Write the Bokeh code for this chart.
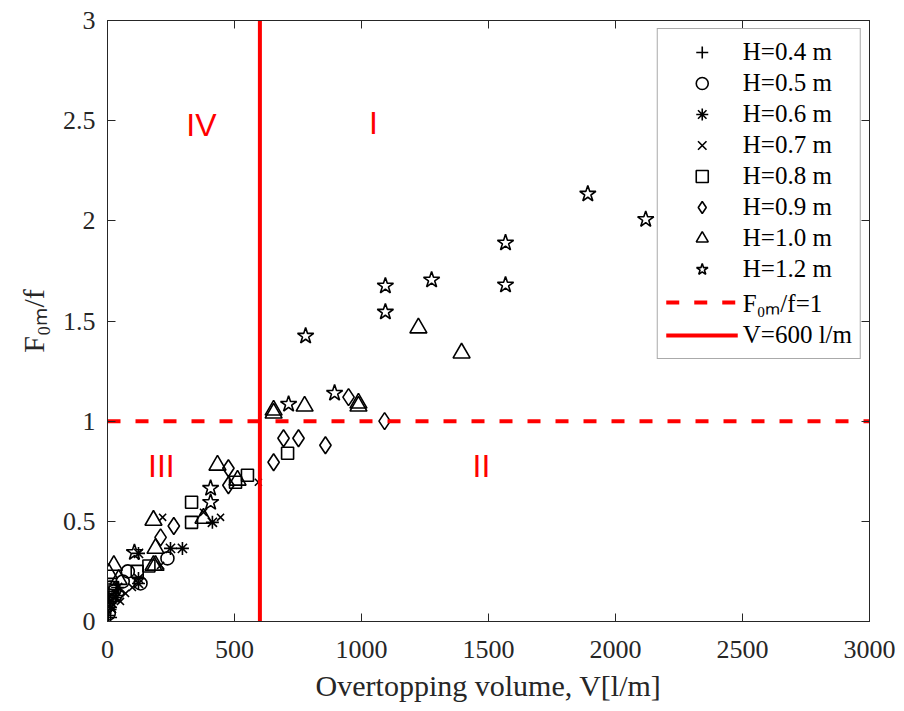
from bokeh.plotting import figure
from bokeh.models import LinearAxis, FixedTicker, Range1d, ColumnDataSource
from bokeh.core.properties import value
from bokeh.embed import file_html
from bokeh.resources import INLINE

# ---------------- data ----------------
x_ticks = [0, 500, 1000, 1500, 2000, 2500, 3000]
y_ticks = [0, 0.5, 1, 1.5, 2, 2.5, 3]

h04_x = [3, 10, 18, 35, 6, 12]
h04_y = [0.03, 0.06, 0.10, 0.13, 0.16, 0.02]

h05_x = [5, 2, 5, 12, 25, 80, 130, 236, 60]
h05_y = [0.04, 0.08, 0.13, 0.17, 0.15, 0.25, 0.19, 0.315, 0.20]

h06_x = [2, 12, 31, 8, 122, 122, 122, 248, 295, 413, 40]
h06_y = [0.12, 0.07, 0.12, 0.10, 0.215, 0.19, 0.34, 0.365, 0.365, 0.495, 0.17]

h07_x = [51, 71, 98, 209, 217, 378, 445, 594, 20]
h07_y = [0.10, 0.14, 0.17, 0.28, 0.52, 0.545, 0.52, 0.695, 0.06]

h08_x = [20, 117, 163, 331, 331, 504, 551, 709, 10]
h08_y = [0.17, 0.25, 0.277, 0.495, 0.595, 0.695, 0.73, 0.84, 0.12]

h09_x = [43, 209, 261, 476, 476, 654, 693, 752, 858, 949, 1091]
h09_y = [0.14, 0.42, 0.477, 0.68, 0.765, 0.795, 0.915, 0.915, 0.88, 1.12, 1.0]

h10_x = [5, 25, 44, 181, 189, 189, 181, 378, 433, 512, 654, 654, 776, 988, 988, 1224, 1394]
h10_y = [0.24, 0.28, 0.21, 0.28, 0.28, 0.365, 0.505, 0.515, 0.78, 0.705, 1.055, 1.04,
         1.075, 1.09, 1.075, 1.465, 1.34]

h12_x = [106, 406, 406, 713, 780, 894, 1094, 1094, 1276, 1567, 1567, 1891, 2119]
h12_y = [0.345, 0.595, 0.665, 1.085, 1.425, 1.14, 1.545, 1.675, 1.705, 1.68, 1.89, 2.134, 2.007]

series_labels = ["H=0.4 m", "H=0.5 m", "H=0.6 m", "H=0.7 m",
                 "H=0.8 m", "H=0.9 m", "H=1.0 m", "H=1.2 m"]

ratio_line_x = [0, 3000]
ratio_line_y = [1, 1]
volume_line_x = [600, 600]
volume_line_y = [0, 3]
ratio_label = "F\u2080\u2098/f=1"
volume_label = "V=600 l/m"

region_names = ["IV", "I", "III", "II"]
region_x = [370, 1047, 212, 1472]
region_y = [2.48, 2.49, 0.776, 0.776]

# ---------------- figure ----------------
AX = "#262626"
SERIF = "Liberation Serif"

p = figure(frame_width=762, frame_height=601,
           x_range=Range1d(0, 3000), y_range=Range1d(0, 3),
           output_backend="svg", toolbar_location=None,
           min_border_left=107, min_border_right=33,
           min_border_top=20, min_border_bottom=88,
           background_fill_color="white", border_fill_color="white")
p.outline_line_color = AX
p.grid.visible = False

for ax in (p.xaxis[0], p.yaxis[0]):
    ax.major_tick_in = 8
    ax.major_tick_out = 0
    ax.minor_tick_line_color = None
    ax.axis_line_color = AX
    ax.major_tick_line_color = AX
    ax.major_label_text_font = SERIF
    ax.major_label_text_font_size = "26px"
    ax.major_label_text_color = AX
    ax.axis_label_text_font = SERIF
    ax.axis_label_text_font_size = "30px"
    ax.axis_label_text_font_style = "normal"
    ax.axis_label_text_color = AX

p.xaxis[0].ticker = FixedTicker(ticks=x_ticks)
p.yaxis[0].ticker = FixedTicker(ticks=y_ticks)
p.xaxis[0].axis_label = "Overtopping volume, V[l/m]"
p.yaxis[0].axis_label = "F\u2080\u2098/f"
p.xaxis[0].major_label_standoff = 19
p.yaxis[0].major_label_standoff = 12
p.xaxis[0].axis_label_standoff = 8
p.yaxis[0].axis_label_standoff = 10

top = LinearAxis(ticker=FixedTicker(ticks=x_ticks),
                 major_label_overrides={t: "" for t in x_ticks})
right = LinearAxis(ticker=FixedTicker(ticks=y_ticks),
                   major_label_overrides={t: "" for t in y_ticks})
for ax in (top, right):
    ax.major_tick_in = 8
    ax.major_tick_out = 0
    ax.minor_tick_line_color = None
    ax.axis_line_color = AX
    ax.major_tick_line_color = AX
    ax.major_label_text_font_size = "10px"
    ax.major_label_standoff = 0
p.add_layout(top, "above")
p.add_layout(right, "right")

# ---------------- scatter series ----------------
specs = [
    (h04_x, h04_y, "cross", 13),
    (h05_x, h05_y, "circle", 13),
    (h06_x, h06_y, "asterisk", 13),
    (h07_x, h07_y, "x", 10),
    (h08_x, h08_y, "square", 12),
    (h09_x, h09_y, "diamond", 17),
    (h10_x, h10_y, "triangle", 17),
    (h12_x, h12_y, "star", 17),
]
for (xs, ys, mk, sz), lab in zip(specs, series_labels):
    src = ColumnDataSource(dict(x=xs, y=ys))
    p.scatter("x", "y", source=src, marker=mk, size=sz,
              fill_color=None, line_color="black", line_width=1.6,
              legend_label=lab)

# ---------------- threshold lines ----------------
p.line(ratio_line_x, ratio_line_y, line_color="#ff0000", line_width=4,
       line_dash="13 15", legend_label=ratio_label)
p.line(volume_line_x, volume_line_y, line_color="#ff0000", line_width=4,
       legend_label=volume_label)

# ---------------- region labels ----------------
p.text(x=region_x, y=region_y, text=region_names,
       text_font=value("Liberation Sans"), text_font_size="32px",
       text_color="#ff0000", text_align="center", text_baseline="middle")

# ---------------- legend ----------------
lg = p.legend[0]
lg.location = "top_right"
lg.margin = 8
lg.padding = 8
lg.spacing = 1
lg.glyph_width = 72
lg.glyph_height = 30
lg.label_height = 30
lg.label_standoff = 5
lg.label_text_font = SERIF
lg.label_text_font_size = "25px"
lg.label_text_color = "black"
lg.border_line_color = "#555555"
lg.border_line_width = 1
lg.background_fill_color = "white"
lg.background_fill_alpha = 1.0

open("out.html", "w").write(file_html(p, INLINE))
